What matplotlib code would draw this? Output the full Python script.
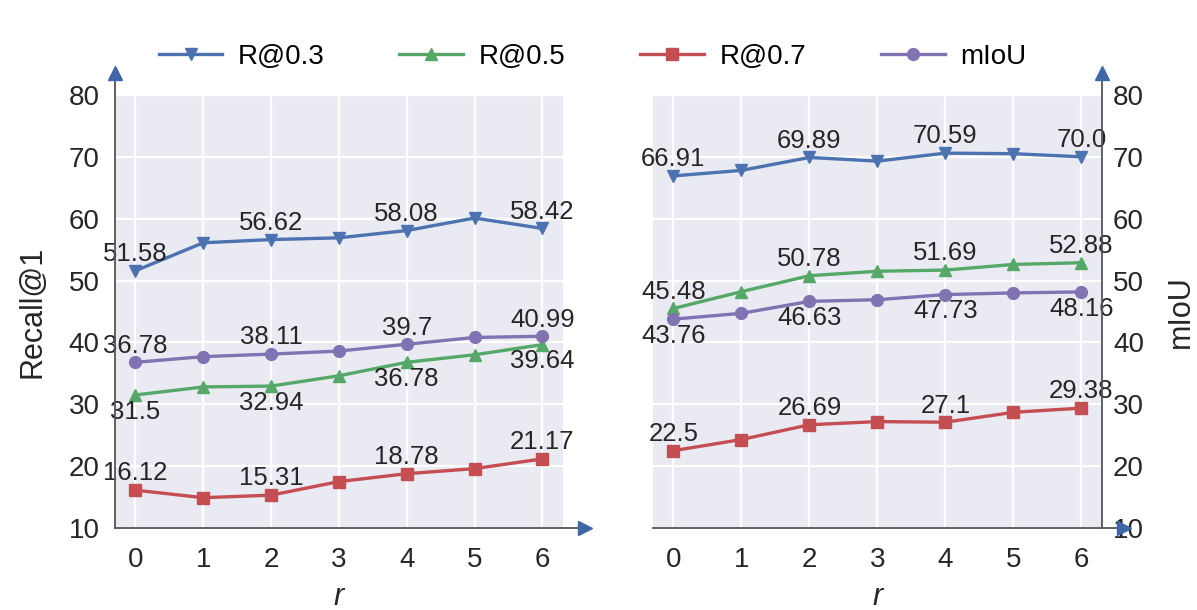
import numpy as np
import matplotlib.pyplot as plt

plt.rcParams['font.family'] = ['Liberation Sans', 'DejaVu Sans']

r = [0, 1, 2, 3, 4, 5, 6]

# left panel
left_r03 = [51.58, 56.1, 56.62, 56.9, 58.08, 60.1, 58.42]
left_r05 = [31.5, 32.8, 32.94, 34.6, 36.78, 38.0, 39.64]
left_r07 = [16.12, 14.9, 15.31, 17.5, 18.78, 19.6, 21.17]
left_miou = [36.78, 37.7, 38.11, 38.6, 39.7, 40.8, 40.99]

# right panel
right_r03 = [66.91, 67.8, 69.89, 69.3, 70.59, 70.5, 70.0]
right_r05 = [45.48, 48.2, 50.78, 51.5, 51.69, 52.6, 52.88]
right_r07 = [22.5, 24.3, 26.69, 27.2, 27.1, 28.7, 29.38]
right_miou = [43.76, 44.7, 46.63, 46.9, 47.73, 48.0, 48.16]

names = ['R@0.3', 'R@0.5', 'R@0.7', 'mIoU']
colors = ['#4C72B0', '#55A868', '#C44E52', '#8172B2']
markers = ['v', '^', 's', 'o']

# +1 label above the points, -1 below
left_side = [1, -1, 1, 1]
right_side = [1, 1, 1, -1]

BG = '#EAEAF2'
SPINE = '#555555'
ARROW = '#3F66A8'
TXT = '#262626'


def draw_panel(ax, series, sides):
    ax.set_facecolor(BG)
    for vals, name, c, m, s in zip(series, names, colors, markers, sides):
        ax.plot(r, vals, color=c, marker=m, ms=8.5, lw=2.4, label=name, zorder=3)
        for i in range(0, 7, 2):
            ax.annotate(str(vals[i]), (r[i], vals[i]), xytext=(0, 12 * s),
                        textcoords='offset points', ha='center', va='center',
                        fontsize=18.5, color=TXT, zorder=4)
    ax.set_xlim(-0.3, 6.3)
    ax.set_ylim(10, 80)
    ax.set_xticks(r)
    ax.set_yticks(np.arange(10, 81, 10))
    ax.grid(True, color='white', lw=1.6)
    ax.set_axisbelow(True)
    for sp in ax.spines.values():
        sp.set_visible(False)
    ax.tick_params(length=0, labelsize=20, labelcolor=TXT)
    ax.tick_params(axis='x', pad=14)
    ax.set_xlabel('r', fontsize=22, fontstyle='italic', color=TXT, labelpad=6)


def draw_arrows(ax, xs):
    ax.plot([xs, xs], [0, 1.05], transform=ax.transAxes, color=SPINE, lw=1.3,
            clip_on=False, zorder=5)
    ax.plot(xs, 1.05, marker='^', ms=10, color=ARROW, transform=ax.transAxes,
            clip_on=False, zorder=6)
    ax.plot([0, 1.05], [0, 0], transform=ax.transAxes, color=SPINE, lw=1.3,
            clip_on=False, zorder=5)
    ax.plot(1.05, 0, marker='>', ms=10, color=ARROW, transform=ax.transAxes,
            clip_on=False, zorder=6)


fig = plt.figure(figsize=(11.97, 6.10), dpi=100)
ax1 = fig.add_axes([0.0961, 0.1344, 0.374, 0.710])
ax2 = fig.add_axes([0.5455, 0.1344, 0.375, 0.710])

draw_panel(ax1, [left_r03, left_r05, left_r07, left_miou], left_side)
draw_panel(ax2, [right_r03, right_r05, right_r07, right_miou], right_side)

ax1.tick_params(axis='y', pad=11)
ax1.set_ylabel('Recall@1', fontsize=22, color=TXT, labelpad=15)

ax2.yaxis.tick_right()
ax2.yaxis.set_label_position('right')
ax2.tick_params(axis='y', pad=8)
ax2.set_ylabel('mIoU', fontsize=22, color=TXT, labelpad=16)

draw_arrows(ax1, 0)
draw_arrows(ax2, 1)

handles, labels = ax1.get_legend_handles_labels()
fig.legend(handles, labels, loc='center', bbox_to_anchor=(0.495, 0.907), ncol=4,
           frameon=False, fontsize=20, handlelength=2.3, handletextpad=0.55,
           columnspacing=2.7)

fig.savefig('out.png', dpi=100)
